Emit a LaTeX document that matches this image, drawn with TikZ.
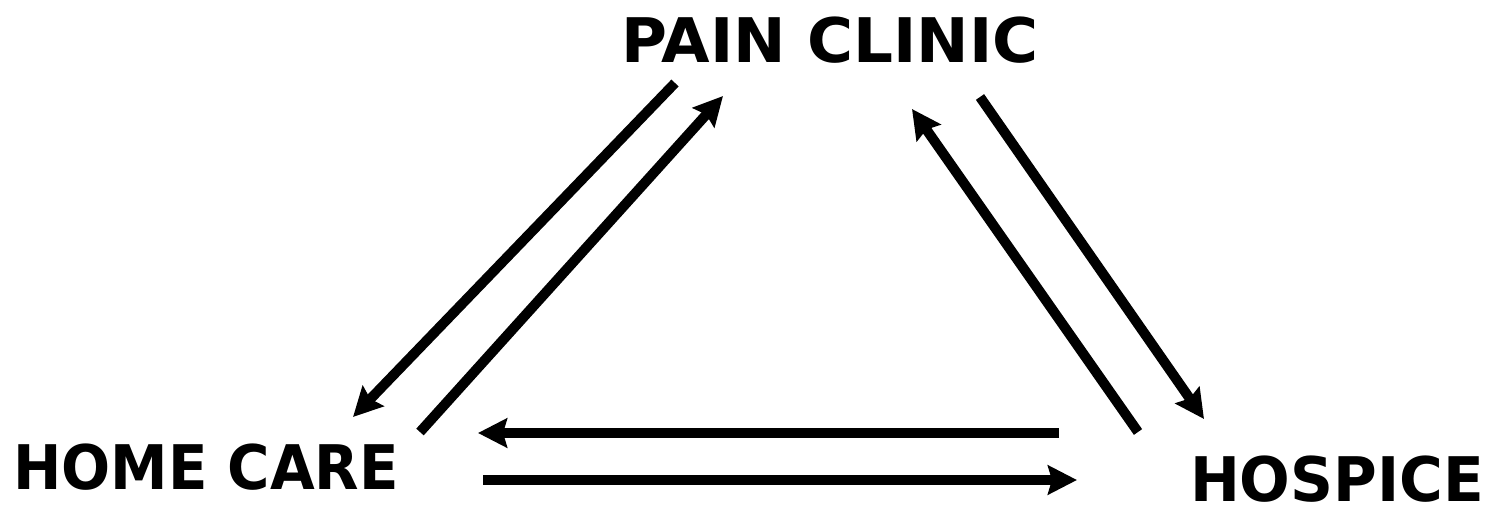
\documentclass[tikz,border=0pt]{standalone}
\usepackage{fontspec}
\setmainfont{DejaVu Sans}
\usetikzlibrary{arrows.meta}

\begin{document}
\begin{tikzpicture}[x=0.02cm, y=-0.02cm,
    place/.style={font=\bfseries\fontsize{35}{42}\selectfont, inner sep=0pt, anchor=base, transform shape},
    arr/.style={-{Stealth[length=0.58cm, width=0.58cm, inset=0.08cm]}, line width=0.2cm}
]
\useasboundingbox (0,0) rectangle (1488,507);
\node[place, xscale=1.02] (clinic) at (830,62) {PAIN CLINIC};
\node[place, xscale=0.94] (home) at (206,489) {HOME CARE};
\node[place, xscale=0.97] (hospice) at (1337,501) {HOSPICE};

% ends of the arrows
\coordinate (c1) at (675,83);  \coordinate (h1) at (353,417);
\coordinate (h2) at (420,432); \coordinate (c2) at (723,96);
\coordinate (s1) at (1138,432); \coordinate (c3) at (912,109);
\coordinate (c4) at (980,97);  \coordinate (s2) at (1204,419);
\coordinate (s3) at (1059,433); \coordinate (h3) at (478,433);
\coordinate (h4) at (483,480); \coordinate (s4) at (1077,480);

\draw[arr] (c1) -- (h1);
\draw[arr] (h2) -- (c2);
\draw[arr] (s1) -- (c3);
\draw[arr] (c4) -- (s2);
\draw[arr] (s3) -- (h3);
\draw[arr] (h4) -- (s4);
\end{tikzpicture}
\end{document}
